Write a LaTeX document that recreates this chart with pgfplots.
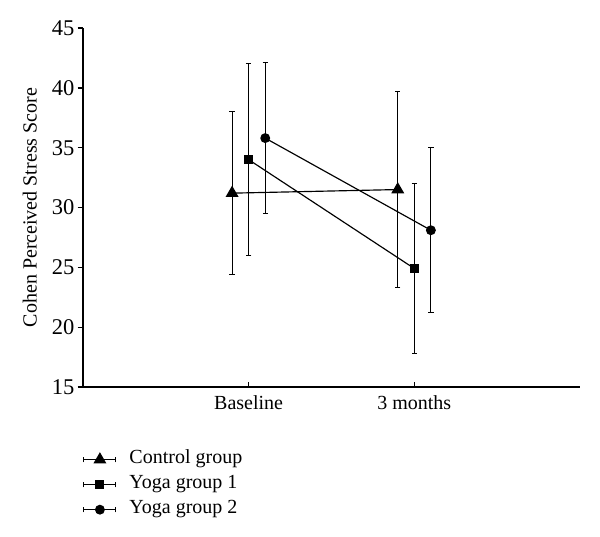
\documentclass[border=0pt]{standalone}
\usepackage{fontspec}
\setmainfont{Liberation Serif}
\usepackage{pgfplots}
\pgfplotsset{compat=1.18}
\begin{document}
\begin{tikzpicture}
\useasboundingbox (-49.8pt,-90pt) rectangle (310.2pt,232.2pt);
\begin{axis}[
  at={(0,0)}, anchor=south west,
  scale only axis, width=298.2pt, height=215.4pt,
  xmin=0, xmax=3, ymin=15, ymax=45,
  axis x line=bottom, axis y line=left,
  axis line style={-, line width=0.7pt},
  xtick={1,2}, xticklabels={Baseline,3 months},
  ytick={15,20,...,45},
  xtick align=inside, ytick align=outside,
  major tick length=3.2pt,
  tick style={line width=0.8pt, black},
  /pgf/number format/assume math mode=true,
  yticklabel style={font=\fontsize{13.5}{15}\selectfont, xshift=1.5pt},
  xticklabel style={font=\fontsize{12}{14}\selectfont, yshift=-1.5pt},
  ylabel={Cohen Perceived Stress Score},
  ylabel style={at={(axis description cs:-0.107,0.5)}, anchor=center, font=\fontsize{12}{14}\selectfont},
  legend cell align=left,
  legend style={at={(0,-0.176)}, anchor=north west, draw=none, fill=none, inner sep=0pt,
    font=\fontsize{12}{14}\selectfont,
    nodes={inner sep=0pt, text height=8pt, text depth=3pt},
    row sep=4pt,
    /tikz/every odd column/.append style={column sep=7.8pt}},
  legend image code/.code={
    \draw[mark repeat=2, mark phase=2] plot coordinates {(0pt,0pt) (9.6pt,0pt) (19.2pt,0pt)};
    \draw[mark=none] (0pt,-1.6pt) -- (0pt,1.6pt) (19.2pt,-1.6pt) -- (19.2pt,1.6pt);
  },
  error bars/y dir=both, error bars/y explicit,
  error bars/error bar style={line width=0.7pt, black},
  error bars/error mark options={rotate=90, mark size=1.6pt, line width=0.7pt, black},
]
\addplot[black, line width=0.7pt, mark=triangle*, mark size=3.8pt, mark options={draw=black, fill=black, solid}]
  coordinates {(0.9,31.2) +- (0,6.8) (1.9,31.5) +- (0,8.2)};
\addlegendentry{Control group}
\addplot[black, line width=0.7pt, mark=square*, mark size=2.4pt, mark options={draw=black, fill=black, solid}]
  coordinates {(1,34.0) +- (0,8.0) (2,24.9) +- (0,7.1)};
\addlegendentry{Yoga group 1}
\addplot[black, line width=0.7pt, mark=*, mark size=2.6pt, mark options={draw=black, fill=black, solid}]
  coordinates {(1.1,35.8) +- (0,6.3) (2.1,28.1) +- (0,6.9)};
\addlegendentry{Yoga group 2}
\end{axis}
\end{tikzpicture}
\end{document}
